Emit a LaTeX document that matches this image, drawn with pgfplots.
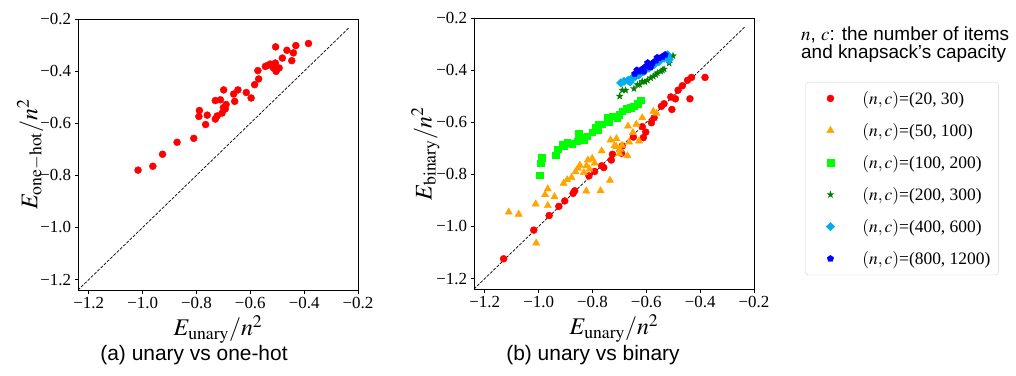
\documentclass[border=0pt]{standalone}
\usepackage{mathptmx}
\usepackage[no-math]{fontspec}
\setmainfont{Liberation Serif}
\setsansfont{Liberation Sans}
\usepackage{pgfplots}
\pgfplotsset{compat=1.18}

\pgfdeclareplotmark{fstar}{%
  \pgfpathmoveto{\pgfpointpolar{90}{\pgfplotmarksize}}%
  \pgfpathlineto{\pgfpointpolar{126}{0.4\pgfplotmarksize}}%
  \pgfpathlineto{\pgfpointpolar{162}{\pgfplotmarksize}}%
  \pgfpathlineto{\pgfpointpolar{198}{0.4\pgfplotmarksize}}%
  \pgfpathlineto{\pgfpointpolar{234}{\pgfplotmarksize}}%
  \pgfpathlineto{\pgfpointpolar{270}{0.4\pgfplotmarksize}}%
  \pgfpathlineto{\pgfpointpolar{306}{\pgfplotmarksize}}%
  \pgfpathlineto{\pgfpointpolar{342}{0.4\pgfplotmarksize}}%
  \pgfpathlineto{\pgfpointpolar{18}{\pgfplotmarksize}}%
  \pgfpathlineto{\pgfpointpolar{54}{0.4\pgfplotmarksize}}%
  \pgfpathclose\pgfusepathqfillstroke}

\definecolor{mporange}{HTML}{FFA500}
\definecolor{mpgreen}{HTML}{008000}

\pgfplotsset{
  myax/.style={
    scale only axis, width=280bp, height=271bp,
    xmin=-1.24, xmax=-0.2, ymin=-1.24, ymax=-0.2,
    xtick={-1.2,-1.0,-0.8,-0.6,-0.4,-0.2},
    ytick={-1.2,-1.0,-0.8,-0.6,-0.4,-0.2},
    xticklabels={−1.2,−1.0,−0.8,−0.6,−0.4,−0.2},
    yticklabels={−1.2,−1.0,−0.8,−0.6,−0.4,−0.2},
    tick align=outside, tick pos=left, major tick length=3.5bp,
    tick label style={font=\fontsize{17}{17}\selectfont, black},
    axis line style={line width=0.8bp, black},
    every tick/.style={black, line width=0.8bp},
    label style={font=\fontsize{24}{24}\selectfont},
    ylabel shift=-10bp,
  },
  diag/.style={black, line width=0.7bp, dash pattern=on 3bp off 1.5bp},
}

\begin{document}
\begin{tikzpicture}[x=1bp,y=1bp]
\path[use as bounding box] (0,0) rectangle (1016,-375);

\begin{axis}[myax, at={(78bp,-290bp)}, anchor=south west,
  xlabel={$E_{\mathrm{unary}}/n^2$},
  ylabel={$E_{\mathrm{one}-\mathrm{hot}}/n^2$}]
\addplot[diag] coordinates {(-1.24,-1.24) (-0.235,-0.235)};
\addplot[only marks, mark=*, mark size=3.5bp, red, mark options={draw=red, fill=red}] coordinates {
(-1.017,-0.780) (-0.962,-0.765) (-0.926,-0.719) (-0.872,-0.673) (-0.810,-0.658)
(-0.766,-0.605) (-0.791,-0.574) (-0.789,-0.551) (-0.760,-0.569) (-0.730,-0.584)
(-0.723,-0.572) (-0.705,-0.561) (-0.693,-0.545) (-0.690,-0.528) (-0.730,-0.513)
(-0.711,-0.510) (-0.699,-0.472) (-0.658,-0.516) (-0.662,-0.488) (-0.646,-0.472)
(-0.615,-0.482) (-0.597,-0.503) (-0.584,-0.452) (-0.569,-0.430) (-0.572,-0.398)
(-0.544,-0.382) (-0.526,-0.373) (-0.507,-0.369) (-0.514,-0.388) (-0.504,-0.401)
(-0.493,-0.388) (-0.481,-0.350) (-0.506,-0.307) (-0.464,-0.320) (-0.440,-0.330)
(-0.431,-0.302) (-0.446,-0.360) (-0.384,-0.294) (-0.535,-0.378) (-0.700,-0.540)
};
\end{axis}

\begin{axis}[myax, at={(474bp,-289bp)}, anchor=south west,
  xlabel={$E_{\mathrm{unary}}/n^2$},
  ylabel={$E_{\mathrm{binary}}/n^2$},
  legend style={at={(1.183,0.764)}, anchor=north west, draw=black!18, rounded corners=3bp,
    font=\fontsize{17.5}{17.5}\selectfont, row sep=13.5bp, inner xsep=6bp, inner ysep=7bp},
  legend cell align=left,
  legend image code/.code={%
    \pgfpathrectangle{\pgfpoint{0bp}{-1bp}}{\pgfpoint{49bp}{2bp}}\pgfusepath{discard}%
    \draw[mark repeat=2,mark phase=2] plot coordinates {(0bp,0bp) (19bp,0bp) (49bp,0bp)};}]
\addplot[diag, forget plot] coordinates {(-1.24,-1.24) (-0.235,-0.235)};
\addplot[only marks, mark=*, mark size=3.5bp, color=red, mark options={draw=red, fill=red}] coordinates {
(-1.130,-1.124) (-1.018,-1.014) (-0.961,-0.958) (-0.925,-0.923) (-0.903,-0.902)
(-0.866,-0.863) (-0.872,-0.873) (-0.813,-0.806) (-0.792,-0.789) (-0.766,-0.767)
(-0.758,-0.774) (-0.730,-0.745) (-0.726,-0.723) (-0.692,-0.719) (-0.689,-0.691)
(-0.648,-0.657) (-0.611,-0.659) (-0.602,-0.638) (-0.615,-0.617) (-0.581,-0.602)
(-0.571,-0.583) (-0.544,-0.539) (-0.534,-0.529) (-0.505,-0.551) (-0.509,-0.503)
(-0.492,-0.510) (-0.482,-0.477) (-0.466,-0.460) (-0.438,-0.510) (-0.447,-0.439)
(-0.432,-0.428) (-0.382,-0.428)
};
\addlegendentry{$(n,c)$=(20, 30)}
\addplot[only marks, mark=triangle*, mark size=4.2bp, color=mporange, mark options={draw=mporange, fill=mporange}] coordinates {
(-1.111,-0.945) (-1.074,-0.953) (-1.009,-1.064) (-1.011,-0.914) (-0.966,-0.920)
(-0.966,-0.856) (-0.976,-0.878) (-0.941,-0.886) (-0.907,-0.834) (-0.894,-0.821)
(-0.878,-0.812) (-0.863,-0.790) (-0.847,-0.765) (-0.854,-0.777) (-0.832,-0.793)
(-0.822,-0.767) (-0.817,-0.745) (-0.801,-0.739) (-0.792,-0.757) (-0.823,-0.864)
(-0.770,-0.863) (-0.735,-0.823) (-0.766,-0.710) (-0.733,-0.668) (-0.711,-0.663)
(-0.711,-0.694) (-0.718,-0.690) (-0.690,-0.689) (-0.664,-0.676) (-0.668,-0.615)
(-0.637,-0.608) (-0.627,-0.672) (-0.615,-0.583) (-0.574,-0.558) (-0.562,-0.566)
(-0.670,-0.729) (-0.698,-0.704) (-0.811,-0.780) (-0.650,-0.640) (-0.700,-0.720)
};
\addlegendentry{$(n,c)$=(50, 100)}
\addplot[only marks, mark=square*, mark size=3.3bp, color=green, mark options={draw=green, fill=green}] coordinates {
(-0.996,-0.803) (-0.993,-0.757) (-0.988,-0.736) (-0.936,-0.726) (-0.929,-0.704)
(-0.912,-0.685) (-0.894,-0.678) (-0.875,-0.685) (-0.857,-0.672) (-0.851,-0.643)
(-0.832,-0.666) (-0.819,-0.653) (-0.801,-0.638) (-0.788,-0.621) (-0.776,-0.608)
(-0.764,-0.608) (-0.745,-0.583) (-0.726,-0.577) (-0.708,-0.583) (-0.689,-0.558)
(-0.673,-0.549) (-0.658,-0.545) (-0.646,-0.539) (-0.633,-0.528) (-0.621,-0.516)
(-0.845,-0.660) (-0.885,-0.680) (-0.905,-0.690) (-0.780,-0.630) (-0.740,-0.600)
(-0.700,-0.570)
};
\addlegendentry{$(n,c)$=(100, 200)}
\addplot[only marks, mark=fstar, mark size=3.4bp, color=mpgreen, mark options={draw=mpgreen, fill=mpgreen}] coordinates {
(-0.699,-0.500) (-0.689,-0.477) (-0.677,-0.477) (-0.646,-0.471) (-0.633,-0.456)
(-0.615,-0.443) (-0.596,-0.439) (-0.584,-0.430) (-0.574,-0.424) (-0.559,-0.411)
(-0.546,-0.405) (-0.534,-0.396) (-0.515,-0.373) (-0.501,-0.345) (-0.625,-0.455)
(-0.605,-0.445) (-0.565,-0.418) (-0.540,-0.400)
};
\addlegendentry{$(n,c)$=(200, 300)}
\addplot[only marks, mark=square*, mark size=3.0bp, color=cyan, mark options={draw=cyan, fill=cyan, rotate=45}] coordinates {
(-0.695,-0.449) (-0.683,-0.443) (-0.668,-0.439) (-0.652,-0.430) (-0.640,-0.424)
(-0.627,-0.418) (-0.609,-0.405) (-0.590,-0.392) (-0.571,-0.379) (-0.553,-0.367)
(-0.534,-0.354) (-0.521,-0.341) (-0.515,-0.360) (-0.660,-0.445) (-0.620,-0.410)
(-0.580,-0.380) (-0.545,-0.355)
};
\addlegendentry{$(n,c)$=(400, 600)}
\addplot[only marks, mark=pentagon*, mark size=3.4bp, color=blue, mark options={draw=blue, fill=blue}] coordinates {
(-0.643,-0.414) (-0.627,-0.405) (-0.615,-0.396) (-0.602,-0.386) (-0.590,-0.379)
(-0.577,-0.373) (-0.564,-0.363) (-0.553,-0.354) (-0.540,-0.348) (-0.530,-0.341)
(-0.609,-0.405) (-0.584,-0.389) (-0.635,-0.400) (-0.595,-0.372) (-0.560,-0.352)
};
\addlegendentry{$(n,c)$=(800, 1200)}
\end{axis}

\node[anchor=north west, align=left, font=\sffamily\fontsize{19}{15}\selectfont, inner sep=0pt] at (801bp,-27bp)
  {$n$, $c$: the number of items\\and knapsack's capacity};

\node[font=\sffamily\fontsize{21}{21}\selectfont] at (194bp,-355bp) {(a) unary vs one-hot};
\node[font=\sffamily\fontsize{21}{21}\selectfont] at (593bp,-355bp) {(b) unary vs binary};
\end{tikzpicture}
\end{document}
